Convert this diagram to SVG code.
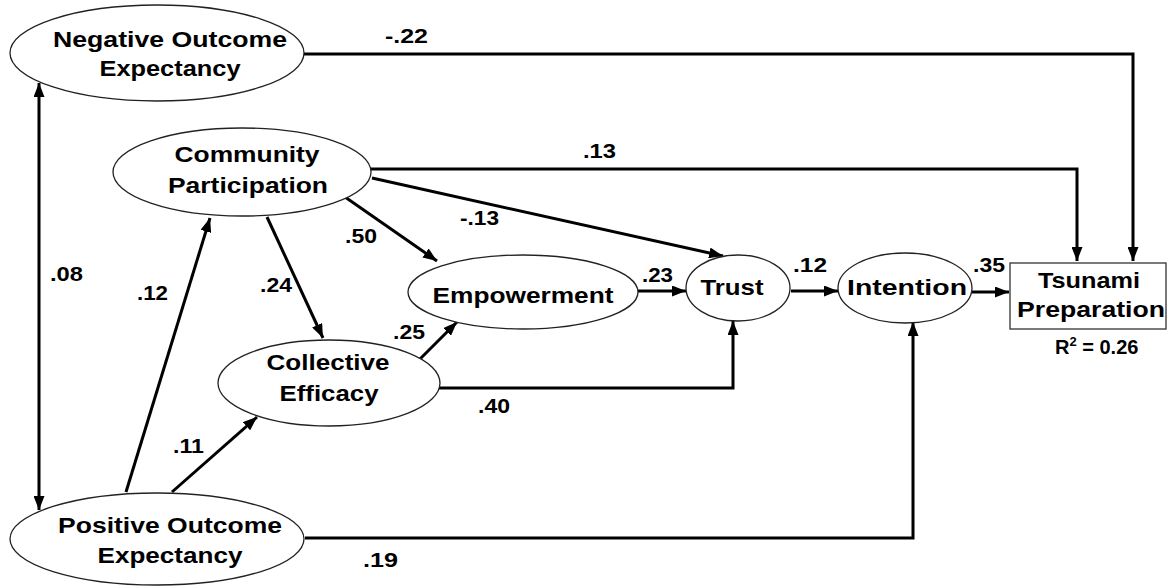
<svg xmlns="http://www.w3.org/2000/svg" width="1168" height="587" viewBox="0 0 1168 587">
<style>
  .node ellipse { fill: #ffffff; stroke: #222; stroke-width: 1.3; }
  .node rect { fill: #ffffff; stroke: #333; stroke-width: 1.3; }
  text { font-family: "Liberation Sans", Arial, sans-serif; font-weight: bold; fill: #000; }
  .lbl { font-size: 22px; text-anchor: middle; }
  .num { font-size: 21px; }
  .conn path { fill: none; stroke: #000; stroke-width: 3; }
</style>
<defs>
  <marker id="arr" markerUnits="userSpaceOnUse" markerWidth="15" markerHeight="11" refX="14" refY="5.5" orient="auto-start-reverse">
    <path d="M0,0 L14,5.5 L0,11 z" fill="#000"/>
  </marker>
</defs>
<rect x="0" y="0" width="1168" height="587" fill="#ffffff"/>

<g id="connectors" class="conn">
  <path d="M304,54 H1133 V261" marker-end="url(#arr)"/>
  <path d="M371,169 H1077 V261" marker-end="url(#arr)"/>
  <path d="M372,178 L723,256" marker-end="url(#arr)"/>
  <path d="M345,197 L437,261" marker-end="url(#arr)"/>
  <path d="M267,217 L323,338" marker-end="url(#arr)"/>
  <path d="M126,492 L210,218" marker-end="url(#arr)"/>
  <path d="M172,492 L257,417" marker-end="url(#arr)"/>
  <path d="M420,359 L457,322" marker-end="url(#arr)"/>
  <path d="M438,388 H733 V321" marker-end="url(#arr)"/>
  <path d="M638,291 H686" marker-end="url(#arr)"/>
  <path d="M791,291 H838" marker-end="url(#arr)"/>
  <path d="M972,292 H1009" marker-end="url(#arr)"/>
  <path d="M305,538 H913 V322" marker-end="url(#arr)"/>
  <path d="M39,83 V510" marker-start="url(#arr)" marker-end="url(#arr)"/>
</g>

<g id="connector-labels" class="num">
  <text x="385" y="43" textLength="43" lengthAdjust="spacingAndGlyphs">-.22</text>
  <text x="583" y="158" textLength="33" lengthAdjust="spacingAndGlyphs">.13</text>
  <text x="460" y="225" textLength="39" lengthAdjust="spacingAndGlyphs">-.13</text>
  <text x="345" y="243" textLength="32" lengthAdjust="spacingAndGlyphs">.50</text>
  <text x="260" y="292" textLength="32" lengthAdjust="spacingAndGlyphs">.24</text>
  <text x="137" y="300" textLength="31" lengthAdjust="spacingAndGlyphs">.12</text>
  <text x="50" y="281" textLength="33" lengthAdjust="spacingAndGlyphs">.08</text>
  <text x="642" y="282" textLength="31" lengthAdjust="spacingAndGlyphs">.23</text>
  <text x="793" y="272" textLength="34" lengthAdjust="spacingAndGlyphs">.12</text>
  <text x="973" y="272" textLength="32" lengthAdjust="spacingAndGlyphs">.35</text>
  <text x="393" y="339" textLength="32" lengthAdjust="spacingAndGlyphs">.25</text>
  <text x="478" y="413" textLength="32" lengthAdjust="spacingAndGlyphs">.40</text>
  <text x="173" y="453" textLength="31" lengthAdjust="spacingAndGlyphs">.11</text>
  <text x="363" y="567" textLength="35" lengthAdjust="spacingAndGlyphs">.19</text>
</g>

<g id="negative-outcome-expectancy" class="node">
  <ellipse cx="157" cy="53" rx="147" ry="48"/>
  <text class="lbl" x="170" y="47" textLength="234" lengthAdjust="spacingAndGlyphs">Negative Outcome</text>
  <text class="lbl" x="170" y="76" textLength="141" lengthAdjust="spacingAndGlyphs">Expectancy</text>
</g>

<g id="community-participation" class="node">
  <ellipse cx="242" cy="172" rx="129" ry="44"/>
  <text class="lbl" x="247" y="162" textLength="145" lengthAdjust="spacingAndGlyphs">Community</text>
  <text class="lbl" x="248" y="193" textLength="160" lengthAdjust="spacingAndGlyphs">Participation</text>
</g>

<g id="empowerment" class="node">
  <ellipse cx="523" cy="292" rx="115" ry="37"/>
  <text class="lbl" x="523" y="303" textLength="181" lengthAdjust="spacingAndGlyphs">Empowerment</text>
</g>

<g id="trust" class="node">
  <ellipse cx="738" cy="288" rx="52" ry="33"/>
  <text class="lbl" x="732" y="295" textLength="63" lengthAdjust="spacingAndGlyphs">Trust</text>
</g>

<g id="intention" class="node">
  <ellipse cx="905" cy="288" rx="67" ry="35"/>
  <text class="lbl" x="907" y="295" textLength="120" lengthAdjust="spacingAndGlyphs">Intention</text>
</g>

<g id="tsunami-preparation" class="node">
  <rect x="1010" y="263" width="156" height="66"/>
  <text class="lbl" x="1089" y="288" textLength="102" lengthAdjust="spacingAndGlyphs">Tsunami</text>
  <text class="lbl" x="1091" y="317" textLength="148" lengthAdjust="spacingAndGlyphs">Preparation</text>
  <text x="1055" y="354" font-size="20">R<tspan font-size="13" dy="-8">2</tspan><tspan dy="8"> = 0.26</tspan></text>
</g>

<g id="collective-efficacy" class="node">
  <ellipse cx="329" cy="383" rx="111" ry="43"/>
  <text class="lbl" x="328" y="370" textLength="123" lengthAdjust="spacingAndGlyphs">Collective</text>
  <text class="lbl" x="329" y="401" textLength="99" lengthAdjust="spacingAndGlyphs">Efficacy</text>
</g>

<g id="positive-outcome-expectancy" class="node">
  <ellipse cx="157" cy="539" rx="147" ry="46"/>
  <text class="lbl" x="170" y="533" textLength="224" lengthAdjust="spacingAndGlyphs">Positive Outcome</text>
  <text class="lbl" x="170" y="563" textLength="145" lengthAdjust="spacingAndGlyphs">Expectancy</text>
</g>
</svg>
